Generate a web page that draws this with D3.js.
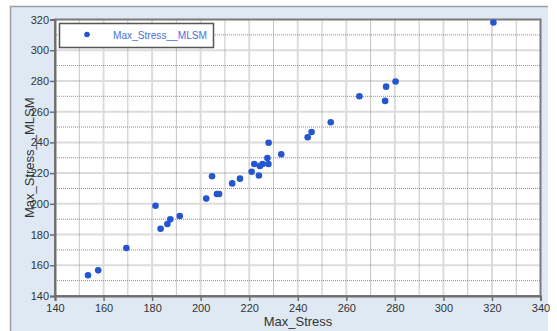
<!DOCTYPE html>
<html>
<head>
<meta charset="utf-8">
<script src="https://cdn.jsdelivr.net/npm/d3@7"></script>
<style>
  body { margin: 0; background: #fff; }
  svg { display: block; font-family: Arial, "Liberation Sans", sans-serif; }
</style>
</head>
<body>
<div id="chart"></div>
<script>
// data
const maxStress = [153.6, 157.8, 169.4, 181.4, 183.5, 186.3, 187.5, 191.4, 202.3, 204.7,
  206.7, 207.6, 213.0, 216.2, 221.0, 222.1, 224.0, 224.4, 225.5, 227.5,
  227.9, 228.0, 233.2, 244.1, 245.7, 253.6, 265.4, 276.0, 276.4, 280.3, 320.6];
const maxStressMLSM = [153.5, 156.7, 171.2, 198.8, 183.8, 186.9, 189.9, 192.1, 203.4, 218.0,
  206.4, 206.4, 213.3, 216.4, 220.9, 225.9, 218.4, 224.6, 225.9, 229.8,
  225.9, 239.8, 232.3, 243.3, 246.8, 253.1, 270.0, 267.0, 276.3, 279.6, 318.0];
const xTicks = [140, 160, 180, 200, 220, 240, 260, 280, 300, 320, 340];
const yTicks = [140, 160, 180, 200, 220, 240, 260, 280, 300, 320];
const seriesName = "Max_Stress__MLSM";
const xTitle = "Max_Stress";
const yTitle = "Max_Stress__MLSM";

const width = 557, height = 331;
const plotLeft = 55, plotRight = 540.5, plotTop = 19.5, plotBottom = 296;

const svg = d3.select("#chart").append("svg")
  .attr("width", width)
  .attr("height", height);

// panel background
svg.append("rect")
  .attr("x", 10).attr("y", 6)
  .attr("width", 538).attr("height", 340)
  .attr("fill", "#dfe9f4");
svg.append("path")
  .attr("d", "M10.5,331 V6.5 H548")
  .attr("fill", "none").attr("stroke", "#9a9fa6").attr("stroke-width", 1.5);

const x = d3.scaleLinear().domain([140, 340]).range([plotLeft, plotRight]);
const y = d3.scaleLinear().domain([140, 320]).range([plotBottom, plotTop]);

svg.append("rect")
  .attr("x", plotLeft).attr("y", plotTop)
  .attr("width", plotRight - plotLeft).attr("height", plotBottom - plotTop)
  .attr("fill", "#fff");

const grid = svg.append("g");
const minorX = d3.range(150, 340, 20);
const minorY = d3.range(150, 320, 20);

// major grid (solid light)
grid.selectAll(".gx").data(xTicks.slice(1, -1)).enter().append("line")
  .attr("x1", d => x(d)).attr("x2", d => x(d))
  .attr("y1", plotTop).attr("y2", plotBottom)
  .attr("stroke", "#dcdcdc").attr("stroke-width", 2);
grid.selectAll(".gy").data(yTicks.slice(1, -1)).enter().append("line")
  .attr("x1", plotLeft).attr("x2", plotRight)
  .attr("y1", d => y(d)).attr("y2", d => y(d))
  .attr("stroke", "#dcdcdc").attr("stroke-width", 2);

// minor grid (dotted)
grid.selectAll(".mx").data(minorX).enter().append("line")
  .attr("x1", d => x(d)).attr("x2", d => x(d))
  .attr("y1", plotTop).attr("y2", plotBottom)
  .attr("stroke", "#8c8c8c").attr("stroke-width", 1)
  .attr("stroke-dasharray", "1,1");
grid.selectAll(".my").data(minorY).enter().append("line")
  .attr("x1", plotLeft).attr("x2", plotRight)
  .attr("y1", d => y(d)).attr("y2", d => y(d))
  .attr("stroke", "#8c8c8c").attr("stroke-width", 1)
  .attr("stroke-dasharray", "1,1");

// frame
svg.append("rect")
  .attr("x", plotLeft).attr("y", plotTop)
  .attr("width", plotRight - plotLeft).attr("height", plotBottom - plotTop)
  .attr("fill", "none").attr("stroke", "#7a7a7a").attr("stroke-width", 2);

// axes
const xAxis = svg.append("g")
  .attr("transform", "translate(0," + plotBottom + ")")
  .call(d3.axisBottom(x).tickValues(xTicks).tickSize(5).tickPadding(3));
const yAxis = svg.append("g")
  .attr("transform", "translate(" + plotLeft + ",0)")
  .call(d3.axisLeft(y).tickValues(yTicks).tickSize(5).tickPadding(1));
[xAxis, yAxis].forEach(a => {
  a.select(".domain").attr("stroke", "#6e6e6e").attr("stroke-width", 2);
  a.selectAll(".tick line").attr("stroke", "#6e6e6e").attr("stroke-width", 1.5);
  a.selectAll(".tick text").attr("fill", "#333").style("font-size", "11px");
});

// points
svg.append("g")
  .selectAll("circle")
  .data(maxStress)
  .enter().append("circle")
    .attr("cx", d => x(d))
    .attr("cy", (d, i) => y(maxStressMLSM[i]))
    .attr("r", 3.3)
    .attr("fill", "#2456d0");

// legend
const legend = svg.append("g");
legend.append("rect")
  .attr("x", 59.5).attr("y", 23.5)
  .attr("width", 154).attr("height", 24)
  .attr("fill", "#fff").attr("stroke", "#555").attr("stroke-width", 1.5);
legend.append("circle")
  .attr("cx", 87).attr("cy", 34.5).attr("r", 2.8)
  .attr("fill", "#2456d0");
legend.append("text")
  .attr("x", 113).attr("y", 39)
  .attr("fill", "#4a6ee0")
  .attr("textLength", 94)
  .attr("lengthAdjust", "spacingAndGlyphs")
  .style("font-size", "11px")
  .text(seriesName);

// axis titles
svg.append("text")
  .attr("x", 298).attr("y", 326)
  .attr("text-anchor", "middle")
  .attr("fill", "#333")
  .style("font-size", "13px")
  .text(xTitle);
svg.append("text")
  .attr("transform", "translate(34," + ((plotTop + plotBottom) / 2) + ") rotate(-90)")
  .attr("text-anchor", "middle")
  .attr("fill", "#333")
  .style("font-size", "13px")
  .text(yTitle);
</script>
</body>
</html>
